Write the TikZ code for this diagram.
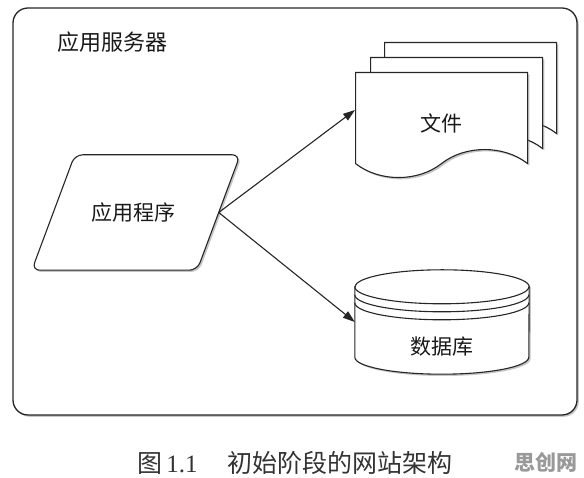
\documentclass[tikz,border=0pt]{standalone}
\usepackage{fontspec}
\setmainfont{Noto Sans CJK SC}
\newfontfamily\numfont{Liberation Serif}
\usetikzlibrary{arrows.meta,shapes.symbols,shadows,positioning}
\tikzset{
	shadowed/.style={
		drop shadow={shadow xshift=1.8pt,shadow yshift=-1.8pt,opacity=0.45},
	},
	server/.style={
		rectangle,
		rounded corners=15pt,
		line width=1.3pt,
		draw=black!85,
		fill=white,
		shadowed,
		minimum width=564pt,
		minimum height=407pt,
	},
	progbody/.style={
		rectangle,
		minimum width=165pt,
		minimum height=115pt,
		inner sep=0pt,
		font=\fontsize{21}{21}\selectfont,
	},
	outline/.style={
		line width=1.1pt,
		draw=black!85,
	},
	filepage/.style={
		tape,
		tape bend top=none,
		tape bend bottom=in and out,
		tape bend height=28pt,
		outline,
		fill=white,
		shadowed,
		minimum width=172pt,
		minimum height=105pt,
	},
	dbbody/.style={
		rectangle,
		minimum width=174pt,
		minimum height=70pt,
		inner sep=0pt,
	},
	tagtext/.style={
		font=\fontsize{21}{21}\selectfont,
		text=black!90,
		inner sep=0pt,
	},
	flow/.style={
		-{Triangle[length=12pt,width=8pt]},
		line width=1.1pt,
		draw=black!85,
	}
}

\begin{document}
\begin{tikzpicture}[x=1pt,y=1pt]
	\useasboundingbox (0,0) rectangle (584,478);
	\node [server] (srv) at (295,266.5) {};
	\node [
	  tagtext,
	  font=\fontsize{22}{22}\selectfont,
	  anchor=west
	] (srvname) at ([xshift=45pt,yshift=-35pt]srv.north west) {应用服务器};

	% application, a slanted box
	\node [progbody] (prog) at (136,265.5) {};
	\draw [outline, fill=white, shadowed, rounded corners=8pt]
	  ([xshift=21.5pt]prog.north west) -- ([xshift=21.5pt]prog.north east)
	  -- ([xshift=-21.5pt]prog.south east) -- ([xshift=-21.5pt]prog.south west) -- cycle;
	\node [tagtext] (progname) at ([xshift=-3pt]prog.center) {应用程序};

	% stacked files, back to front
	\node [filepage, anchor=north west] (doc3) at (384,436) {};
	\node [filepage, anchor=north west] (doc2) at (370,421) {};
	\node [filepage, anchor=north west] (doc1) at (355,406) {};
	\node [tagtext] (docname) at (441,355) {文件};
	\coordinate (docin) at (355,368);

	% database
	\node [dbbody] (db) at (442,156) {};
	\draw [outline, fill=white, shadowed] (db.north west) -- (db.south west)
	  arc [start angle=180, end angle=360, x radius=87pt, y radius=17pt]
	  -- (db.north east)
	  arc [start angle=0, end angle=180, x radius=87pt, y radius=17pt] -- cycle;
	\foreach \dy in {0,8,16}
	  \draw [outline] ([yshift=-\dy pt]db.north west)
	    arc [start angle=180, end angle=360, x radius=87pt, y radius=17pt];
	\node [tagtext] (dbname) at ([yshift=-25pt]db.center) {数据库};

	\draw [flow] (prog.east) -- (docin);
	\draw [flow] (prog.east) -- (db.west);

	\node [
	  anchor=west,
	  font=\fontsize{25}{25}\selectfont,
	  text=black!80,
	  inner sep=0pt
	] (caption) at (137,15) {图\,{\numfont 1.1}\hspace{30pt}初始阶段的网站架构};
	\node [
	  anchor=east,
	  font=\bfseries\fontsize{21}{21}\selectfont,
	  text=black!40,
	  inner sep=0pt
	] (mark) at (578,16) {思创网};
\end{tikzpicture}
\end{document}
